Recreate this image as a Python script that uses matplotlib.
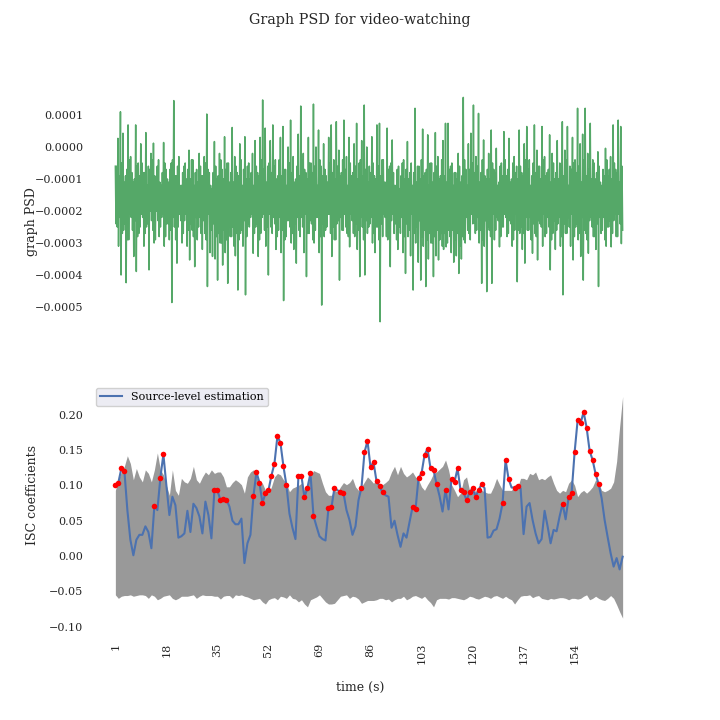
import numpy as np
import matplotlib
matplotlib.use("Agg")
import matplotlib.pyplot as plt

plt.rcParams['font.family'] = ['DejaVu Serif']
plt.rcParams['axes.unicode_minus'] = True

# ---------------- data ----------------
title = "Graph PSD for video-watching"

# graph PSD (units of 1e-5): outer local maxima / minima ...
psd_high = [
    -6, 2.7, 11.0, 4.3, -9, 6.9, -3, -11, 6.9, -5,
    1, -8, 4.5, -6, -2, 1.2, -10, -4, -12, 1.4,
    -7, -11, -5, 14.5, -9, -3, -12, -6, -10, -1,
    -4, -12, -7, -2, -9, -3, 10.3, -8, -13, 1.7,
    -10, -2, -7, 3.2, -5, -11, 6.1, -3, -8, 1,
    -12, 3.2, -6, -10, -2, 2, -8, 3, 14.7, 5.9,
    -6, 2, 6.9, -4, -9, 3, 6.4, -7, 0, 8.4,
    -3, -10, 4, 12.8, -2, -8, 3, -5, 13.4, 0,
    5.3, -6, 1, -9, 3, 6.9, -4, 7.9, -1, -8,
    8.4, -3, 3, -9, 1, 7.4, -5, 2, 13.1, 0,
    -6, 3.2, -9, 6.9, 7.4, -4, -11, 5.9, -6, 2.2,
    -12, -7, -13, -5, -10, 1.7, -8, -12, 12.1, -6,
    -10, 5.6, -8, 3.8, -5, -11, 4.5, -3, -9, 2,
    7.4, 7.4, -6, -12, -8, -2, -11, 15.5, -7, 1,
    4.3, 13.1, -3, 10.5, -8, 2.2, -10, -2, 5.3, -7,
    -0.4, -11, -5, 4.8, -9, 2.7, -10, -3, -6, 5.3,
    -8, 1, 6.4, -4, -9, 6.9, -1, -6, 6.4, -3,
    -8, 3.8, -2, -10, 2, -5, 7.9, -1, 6.4, -6,
    3, -4, 12.1, 1, 4, 12.1, -2, 7.4, -4, -10,
    -1.5, -11, -7, -0.4, -9, -3, 6.9, -7, 8.4, 6.4,
]
psd_low = [
    -24, -31, -40, -26, -42.4, -29, -22, -34.2, -38.9, -27,
    -21, -31, -25, -38.4, -23, -30, -20, -28, -22, -31,
    -24, -29, -48.6, -25, -36.3, -21, -30, -23, -31, -35.3,
    -26, -37.4, -29, -22, -32, -27, -43.6, -33, -34.2, -35,
    -41.6, -30, -36.9, -33, -42.6, -28, -25, -34, -44.7, -27,
    -31, -46.2, -24, -22, -33.2, -25, -34.2, -27, -21, -31,
    -40, -25, -22, -32, -26, -33, -48, -28, -23, -30,
    -32, -36.3, -26, -22, -33, -40.5, -27, -24, -30, -22,
    -33, -49.4, -28, -25, -21, -34.2, -29, -24, -41.6, -26,
    -21, -27, -31.2, -23, -28, -32, -40.5, -25, -40, -27,
    -24, -30, -33, -25, -54.6, -28, -22, -29, -37.4, -21,
    -24, -32, -27, -33, -39.5, -28, -34, -44.7, -30, -36,
    -41.6, -31, -43.6, -35, -30, -40.5, -34, -35.3, -27, -32,
    -31.2, -26, -33, -36, -34, -39.5, -35, -29, -22, -27,
    -21, -23.8, -26, -30, -42.6, -31, -45.2, -26, -42.6, -29,
    -22, -31.2, -25, -21, -28, -23, -31, -26, -42.1, -27,
    -32, -36.3, -26, -22, -33.2, -27, -35.3, -24, -31, -28,
    -22, -38.4, -27, -32, -24, -31, -46.2, -27, -22, -31,
    -35.3, -25, -29, -34.2, -41.6, -27, -33.2, -22, -28, -32,
    -43.6, -27, -22, -31, -25, -31.2, -23, -28, -21, -30.2,
]
# ... and the inner (core) oscillations between them
core_high = [
    -6, -9, -5, -11, -7, -4, -8, -10, -6, -9,
    -5, -8, -12, -7, -4, -9, -6, -11, -8, -5,
    -10, -7, -4, -9, -6, -12, -8, -5, -7, -10,
    -4, -8, -11, -6, -9, -5, -7, -12, -8, -6,
    -9, -4, -10, -7, -5, -8, -11, -6, -9, -4,
    -7, -10, -5, -8, -12, -6, -9, -4, -7, -11,
    -5, -8, -6, -10, -4, -9, -7, -12, -5, -8,
    -11, -6, -9, -4, -7, -10, -5, -8, -6, -12,
    -4, -9, -7, -11, -5, -8, -10, -6, -9, -4,
    -7, -12, -5, -8, -6, -10, -4, -9, -7, -11,
    -8, -5, -10, -6, -9, -4, -11, -7, -5, -8,
    -12, -6, -9, -4, -7, -10, -5, -8, -11, -6,
    -4, -9, -7, -12, -5, -8, -6, -10, -4, -9,
    -11, -7, -5, -8, -10, -6, -9, -4, -12, -7,
    -5, -8, -6, -11, -4, -9, -7, -10, -5, -8,
    -12, -6, -9, -4, -7, -11, -5, -8, -10, -6,
    -9, -4, -7, -12, -5, -8, -6, -10, -4, -9,
    -7, -11, -5, -8, -10, -6, -9, -4, -12, -7,
    -5, -8, -6, -11, -4, -9, -7, -10, -5, -8,
    -6, -12, -9, -4, -7, -10, -5, -8, -11, -6,
]
core_low = [
    -25, -22, -27, -24, -29, -21, -26, -23, -28, -25,
    -22, -27, -24, -20, -26, -29, -23, -25, -21, -28,
    -24, -26, -22, -29, -25, -23, -27, -21, -26, -24,
    -28, -22, -25, -27, -23, -29, -21, -26, -24, -28,
    -27, -30, -26, -29, -25, -28, -31, -27, -29, -26,
    -23, -28, -25, -21, -27, -24, -29, -22, -26, -25,
    -21, -27, -24, -28, -22, -26, -29, -23, -25, -27,
    -24, -22, -28, -25, -21, -27, -23, -29, -26, -22,
    -28, -24, -26, -21, -27, -25, -29, -23, -22, -26,
    -25, -28, -21, -27, -24, -26, -22, -29, -23, -25,
    -22, -27, -25, -29, -24, -21, -28, -26, -23, -27,
    -29, -25, -22, -28, -24, -26, -21, -27, -25, -23,
    -28, -26, -29, -27, -30, -28, -26, -29, -31, -27,
    -30, -28, -26, -29, -27, -31, -28, -30, -26, -29,
    -24, -27, -22, -26, -29, -23, -25, -28, -21, -26,
    -23, -28, -25, -22, -27, -24, -29, -21, -26, -25,
    -27, -22, -26, -29, -24, -28, -23, -25, -21, -27,
    -25, -29, -23, -26, -22, -28, -24, -27, -25, -21,
    -28, -24, -27, -22, -26, -29, -23, -25, -28, -24,
    -22, -26, -29, -25, -23, -27, -21, -28, -24, -26,
]

# ISC coefficients, time points 1..170
isc = [
    0.100, 0.104, 0.124, 0.121, 0.065, 0.023, 0.001, 0.023, 0.030, 0.030,
    0.042, 0.034, 0.011, 0.071, 0.065, 0.111, 0.144, 0.100, 0.058, 0.084,
    0.072, 0.026, 0.028, 0.032, 0.064, 0.034, 0.074, 0.068, 0.056, 0.032,
    0.077, 0.058, 0.025, 0.093, 0.093, 0.079, 0.081, 0.080, 0.070, 0.050,
    0.045, 0.045, 0.053, -0.010, 0.018, 0.030, 0.085, 0.119, 0.104, 0.075,
    0.089, 0.093, 0.114, 0.131, 0.170, 0.160, 0.127, 0.100, 0.060, 0.040,
    0.024, 0.114, 0.113, 0.083, 0.097, 0.117, 0.057, 0.042, 0.028, 0.024,
    0.022, 0.068, 0.069, 0.097, 0.093, 0.091, 0.089, 0.065, 0.051, 0.030,
    0.042, 0.079, 0.097, 0.147, 0.163, 0.126, 0.133, 0.106, 0.099, 0.090,
    0.086, 0.084, 0.040, 0.050, 0.030, 0.013, 0.032, 0.026, 0.048, 0.069,
    0.066, 0.111, 0.117, 0.143, 0.152, 0.124, 0.122, 0.102, 0.085, 0.063,
    0.094, 0.066, 0.109, 0.105, 0.124, 0.093, 0.090, 0.079, 0.090, 0.096,
    0.084, 0.093, 0.102, 0.096, 0.026, 0.027, 0.036, 0.038, 0.053, 0.075,
    0.136, 0.109, 0.097, 0.097, 0.099, 0.096, 0.031, 0.070, 0.075, 0.051,
    0.032, 0.018, 0.024, 0.064, 0.042, 0.018, 0.037, 0.035, 0.056, 0.074,
    0.052, 0.083, 0.089, 0.147, 0.192, 0.188, 0.204, 0.182, 0.149, 0.136,
    0.116, 0.102, 0.082, 0.051, 0.027, 0.004, -0.015, -0.003, -0.019, -0.001,
]

upper = [
    0.093, 0.108, 0.119, 0.127, 0.142, 0.131, 0.108, 0.124, 0.112, 0.105,
    0.122, 0.117, 0.105, 0.122, 0.146, 0.122, 0.115, 0.100, 0.086, 0.122,
    0.093, 0.086, 0.110, 0.105, 0.103, 0.110, 0.127, 0.108, 0.103, 0.112,
    0.119, 0.115, 0.122, 0.117, 0.119, 0.119, 0.112, 0.098, 0.098, 0.104,
    0.108, 0.105, 0.101, 0.089, 0.112, 0.119, 0.122, 0.112, 0.106, 0.103,
    0.093, 0.089, 0.098, 0.112, 0.117, 0.115, 0.108, 0.103, 0.091, 0.096,
    0.098, 0.100, 0.103, 0.093, 0.101, 0.112, 0.121, 0.119, 0.117, 0.103,
    0.091, 0.086, 0.086, 0.093, 0.091, 0.098, 0.104, 0.101, 0.104, 0.110,
    0.098, 0.093, 0.098, 0.105, 0.112, 0.108, 0.103, 0.108, 0.098, 0.101,
    0.104, 0.108, 0.119, 0.127, 0.115, 0.127, 0.117, 0.112, 0.115, 0.119,
    0.112, 0.108, 0.098, 0.093, 0.101, 0.108, 0.117, 0.119, 0.123, 0.127,
    0.136, 0.122, 0.101, 0.093, 0.084, 0.089, 0.108, 0.112, 0.093, 0.089,
    0.093, 0.089, 0.093, 0.091, 0.089, 0.089, 0.098, 0.110, 0.101, 0.093,
    0.093, 0.093, 0.093, 0.101, 0.097, 0.110, 0.110, 0.108, 0.117, 0.115,
    0.119, 0.108, 0.110, 0.108, 0.112, 0.115, 0.103, 0.093, 0.089, 0.093,
    0.091, 0.103, 0.108, 0.100, 0.084, 0.090, 0.093, 0.089, 0.093, 0.098,
    0.108, 0.103, 0.093, 0.091, 0.093, 0.096, 0.105, 0.134, 0.183, 0.226,
]

lower = [
    -0.055, -0.060, -0.057, -0.056, -0.056, -0.055, -0.057, -0.056, -0.055, -0.055,
    -0.056, -0.060, -0.055, -0.057, -0.062, -0.060, -0.057, -0.056, -0.055, -0.060,
    -0.062, -0.060, -0.057, -0.057, -0.057, -0.056, -0.055, -0.060, -0.057, -0.055,
    -0.056, -0.056, -0.056, -0.057, -0.057, -0.061, -0.057, -0.056, -0.056, -0.060,
    -0.055, -0.056, -0.055, -0.057, -0.058, -0.060, -0.062, -0.061, -0.060, -0.065,
    -0.068, -0.062, -0.060, -0.059, -0.062, -0.057, -0.058, -0.060, -0.055, -0.060,
    -0.061, -0.065, -0.062, -0.068, -0.072, -0.062, -0.060, -0.058, -0.055, -0.060,
    -0.065, -0.068, -0.068, -0.067, -0.062, -0.057, -0.056, -0.055, -0.060, -0.057,
    -0.058, -0.061, -0.067, -0.065, -0.063, -0.063, -0.063, -0.062, -0.060, -0.060,
    -0.062, -0.061, -0.065, -0.062, -0.060, -0.060, -0.057, -0.062, -0.060, -0.057,
    -0.056, -0.058, -0.060, -0.057, -0.062, -0.066, -0.072, -0.062, -0.060, -0.060,
    -0.060, -0.061, -0.059, -0.059, -0.060, -0.061, -0.062, -0.060, -0.057, -0.058,
    -0.060, -0.061, -0.059, -0.057, -0.058, -0.060, -0.057, -0.056, -0.058, -0.060,
    -0.057, -0.060, -0.062, -0.068, -0.062, -0.057, -0.056, -0.056, -0.055, -0.059,
    -0.057, -0.056, -0.060, -0.061, -0.062, -0.060, -0.061, -0.060, -0.059, -0.059,
    -0.060, -0.062, -0.060, -0.060, -0.061, -0.060, -0.057, -0.055, -0.062, -0.060,
    -0.057, -0.060, -0.062, -0.063, -0.060, -0.056, -0.060, -0.069, -0.079, -0.088,
]

significant = [1, 2, 3, 4, 14, 16, 17, 34, 35, 36, 37, 38,
               47, 48, 49, 50, 51, 52, 53, 54, 55, 56, 57, 58,
               62, 63, 64, 65, 66, 67, 72, 73, 74, 76, 77,
               83, 84, 85, 86, 87, 88, 89, 90,
               100, 101, 102, 103, 104, 105, 106, 107, 108, 111,
               113, 114, 115, 116, 117, 118, 119, 120, 121, 122, 123,
               130, 131, 132, 134, 135, 150,
               152, 153, 154, 155, 156, 157, 158, 159, 160, 161, 162]

xtick_labels = [1, 18, 35, 52, 69, 86, 103, 120, 137, 154]

# ---------------- figure ----------------
W, H = 720, 720
fig = plt.figure(figsize=(7.2, 7.2), dpi=100)

def px_axes(left, top, right, bottom):
    return fig.add_axes([left / W, 1 - bottom / H, (right - left) / W, (bottom - top) / H])

ax1 = px_axes(90, 86, 648, 338)
ax2 = px_axes(90, 382, 648, 636)

psd = np.column_stack([psd_high, psd_low, core_high, core_low]).ravel() * 1e-5
ax1.plot(np.arange(len(psd)), psd, color='#55A868', lw=1.1)
ax1.set_ylim((147 - 338) / 320000, (147 - 86) / 320000)
ax1.set_xticks([])

t = np.arange(1, len(isc) + 1)
isc_a = np.array(isc)
ax2.fill_between(t, lower, upper, color='#999999', lw=0)
ax2.plot(t, isc_a, color='#4C72B0', lw=1.5, label='Source-level estimation')
sig = np.array(significant)
ax2.scatter(sig, isc_a[sig - 1], color='red', s=16, zorder=3, lw=0)
ax2.set_xticks(xtick_labels)
ax2.set_xticklabels([str(v) for v in xtick_labels], rotation=90)
ax2.set_ylim((556 - 636) / 706, (556 - 382) / 706)
ax2.set_yticks([-0.10, -0.05, 0.0, 0.05, 0.10, 0.15, 0.20])

for ax in (ax1, ax2):
    for s in ax.spines.values():
        s.set_visible(False)
    ax.tick_params(length=0, labelsize=8, colors='#262626', pad=5)

leg = ax2.legend(loc='upper left', fontsize=8, frameon=True, fancybox=True,
                 facecolor='#EAEAF2', edgecolor='#CCCCCC', framealpha=0.9)

fig.text(0.5, 1 - 20 / H, title, ha='center', va='center', fontsize=10.4, color='#262626')
fig.text(32 / W, 1 - 222 / H, 'graph PSD', rotation=90, ha='center', va='center',
         fontsize=9, color='#262626')
fig.text(33 / W, 1 - 495 / H, 'ISC coefficients', rotation=90, ha='center', va='center',
         fontsize=9, color='#262626')
fig.text(0.5, 1 - 687 / H, 'time (s)', ha='center', va='center', fontsize=9, color='#262626')

fig.savefig('out.png', dpi=100, facecolor='white')
